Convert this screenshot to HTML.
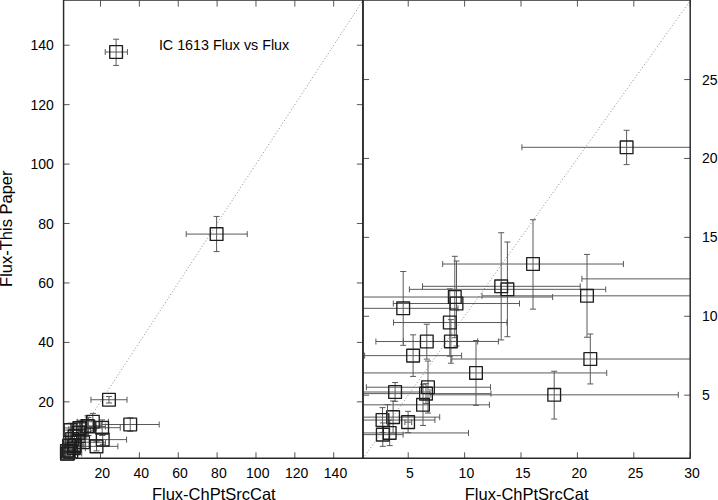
<!DOCTYPE html>
<html><head><meta charset="utf-8"><style>
html,body{margin:0;padding:0;background:#fff;width:718px;height:500px;overflow:hidden}
svg{display:block}
text{font-family:"Liberation Sans",sans-serif;font-size:14px;fill:#000}
text.al{font-size:16.5px}
text.t{font-size:14.3px}
.dg{stroke:#8a8a8a;stroke-width:1;stroke-dasharray:1 2.2;fill:none}
.eb{stroke:#5a5a5a;stroke-width:1;fill:none}
.bx{stroke:#1e1e1e;stroke-width:1.35;fill:none;stroke-linejoin:round}
.tk{stroke:#555;stroke-width:1;fill:none}
.fr{stroke:#2a2a2a;stroke-width:1.45;fill:none;stroke-linejoin:round}
</style></head><body>
<svg width="718" height="500" viewBox="0 0 718 500">
<defs><clipPath id="cl"><rect x="63.58" y="0" width="299.27" height="458.3"/></clipPath>
<clipPath id="clb"><rect x="0" y="0" width="362.85" height="500"/></clipPath>
<clipPath id="crb"><rect x="363.1" y="0" width="327.1" height="458.3"/></clipPath>
<clipPath id="cr"><rect x="363.1" y="0" width="327.1" height="458.3"/></clipPath></defs>
<line x1="63.58" y1="458.3" x2="362.85" y2="0.64" class="dg"/>
<line x1="363.1" y1="458.3" x2="690.2" y2="0.64" class="dg"/>
<g clip-path="url(#cl)"><path class="eb" d="M90.94 399.74H127.02M90.94 396.74V402.74M127.02 396.74V402.74M108.98 403V396.54M105.98 403H111.98M105.98 396.54H111.98"/><path class="eb" d="M77.29 421.72H108.43M77.29 418.72V424.72M108.43 418.72V424.72M92.85 430.21V413.37M89.85 430.21H95.85M89.85 413.37H95.85"/><path class="eb" d="M73.81 425.92H100.99M73.81 422.92V428.92M100.99 422.92V428.92M87.37 436.01V415.82M84.37 436.01H90.37M84.37 415.82H90.37"/><path class="eb" d="M71.56 426.48H105.38M71.56 423.48V429.48M105.38 423.48V429.48M88.44 435.41V417.57M85.44 435.41H91.44M85.44 417.57H91.44"/><path class="eb" d="M84.07 427.7H120.25M84.07 424.7V430.7M120.25 424.7V430.7M102.16 435.5V419.91M99.16 435.5H105.16M99.16 419.91H105.16"/><path class="eb" d="M61.05 430.06H79.93M61.05 427.06V433.06M79.93 427.06V433.06M70.49 437.03V423.13M67.49 437.03H73.49M67.49 423.13H73.49"/><path class="eb" d="M62.53 427.93H96.23M62.53 424.93V430.93M96.23 424.93V430.93M79.38 435.6V420.27M76.38 435.6H82.38M76.38 420.27H82.38"/><path class="eb" d="M68.78 429.15H90.53M68.78 426.15V432.15M90.53 426.15V432.15M79.67 437.16V421.15M76.67 437.16H82.67M76.67 421.15H82.67"/><path class="eb" d="M68.82 432.73H88.37M68.82 429.73V435.73M88.37 429.73V435.73M78.52 439.08V426.39M75.52 439.08H81.52M75.52 426.39H81.52"/><path class="eb" d="M70.52 436.29H86.89M70.52 433.29V439.29M86.89 433.29V439.29M78.71 440.4V432.19M75.71 440.4H81.71M75.71 432.19H81.71"/><path class="eb" d="M65.79 436.31H83.31M65.79 433.31V439.31M83.31 433.31V439.31M74.56 439.63V433.05M71.56 439.63H77.56M71.56 433.05H77.56"/><path class="eb" d="M63.84 438.97H80.55M63.84 435.97V441.97M80.55 435.97V441.97M72.19 442.88V435.05M69.19 442.88H75.19M69.19 435.05H75.19"/><path class="eb" d="M60.53 442.22H105.55M60.53 439.22V445.22M105.55 439.22V445.22M83.03 448.33V436.12M80.03 448.33H86.03M80.03 436.12H86.03"/><path class="eb" d="M78.86 439.61H126.59M78.86 436.61V442.61M126.59 436.61V442.61M102.73 444.3V434.9M99.73 444.3H105.73M99.73 434.9H105.73"/><path class="eb" d="M63.05 445.82H75.11M63.05 442.82V448.82M75.11 442.82V448.82M69.09 447.57V444.03M66.09 447.57H72.09M66.09 444.03H72.09"/><path class="eb" d="M64.15 444.92H85.53M64.15 441.92V447.92M85.53 441.92V447.92M74.76 449.78V439.98M71.76 449.78H77.76M71.76 439.98H77.76"/><path class="eb" d="M63.22 446.12H85.62M63.22 443.12V449.12M85.62 443.12V449.12M74.42 448.01V444.24M71.42 448.01H77.42M71.42 444.24H77.42"/><path class="eb" d="M62.46 448.23H85.34M62.46 445.23V451.23M85.34 445.23V451.23M73.9 452.11V444.35M70.9 452.11H76.9M70.9 444.35H76.9"/><path class="eb" d="M75.12 446.35H117.89M75.12 443.35V449.35M117.89 443.35V449.35M96.51 450.91V441.9M93.51 450.91H99.51M93.51 441.9H99.51"/><path class="eb" d="M57.83 451.09H75.95M57.83 448.09V454.09M75.95 448.09V454.09M66.92 453.43V448.76M63.92 453.43H69.92M63.92 448.76H69.92"/><path class="eb" d="M60.79 450.55H76.78M60.79 447.55V453.55M76.78 447.55V453.55M68.75 453.54V447.52M65.75 453.54H71.75M65.75 447.52H71.75"/><path class="eb" d="M70.78 451.49H71.95M70.78 448.49V454.49M71.95 448.49V454.49M71.33 453.47V449.46M68.33 453.47H74.33M68.33 449.46H74.33"/><path class="eb" d="M63.51 453.84H70.47M63.51 450.84V456.84M70.47 450.84V456.84M66.97 456.05V451.64M63.97 456.05H69.97M63.97 451.64H69.97"/><path class="eb" d="M54.59 453.52H81.74M54.59 450.52V456.52M81.74 450.52V456.52M68.16 455.92V451.13M65.16 455.92H71.16M65.16 451.13H71.16"/><path class="eb" d="M101.28 424.51H159.19M101.28 421.51V427.51M159.19 421.51V427.51M130.24 431.26V417.88M127.24 431.26H133.24M127.24 417.88H133.24"/><path class="eb" d="M105.21 52.02H127.4M105.21 49.02V55.02M127.4 49.02V55.02M116.11 65.43V39.21M113.11 65.43H119.11M113.11 39.21H119.11"/><path class="eb" d="M186.2 234.08H247.22M186.2 231.08V237.08M247.22 231.08V237.08M216.6 251.58V216.45M213.6 251.58H219.6M213.6 216.45H219.6"/></g><g clip-path="url(#clb)"><rect class="bx" x="102.63" y="393.39" width="12.7" height="12.7"/><rect class="bx" x="86.5" y="415.37" width="12.7" height="12.7"/><rect class="bx" x="81.02" y="419.57" width="12.7" height="12.7"/><rect class="bx" x="82.09" y="420.13" width="12.7" height="12.7"/><rect class="bx" x="95.81" y="421.35" width="12.7" height="12.7"/><rect class="bx" x="64.14" y="423.71" width="12.7" height="12.7"/><rect class="bx" x="73.03" y="421.58" width="12.7" height="12.7"/><rect class="bx" x="73.32" y="422.8" width="12.7" height="12.7"/><rect class="bx" x="72.17" y="426.38" width="12.7" height="12.7"/><rect class="bx" x="72.36" y="429.94" width="12.7" height="12.7"/><rect class="bx" x="68.21" y="429.96" width="12.7" height="12.7"/><rect class="bx" x="65.84" y="432.62" width="12.7" height="12.7"/><rect class="bx" x="76.68" y="435.87" width="12.7" height="12.7"/><rect class="bx" x="96.38" y="433.26" width="12.7" height="12.7"/><rect class="bx" x="62.74" y="439.47" width="12.7" height="12.7"/><rect class="bx" x="68.41" y="438.57" width="12.7" height="12.7"/><rect class="bx" x="68.07" y="439.77" width="12.7" height="12.7"/><rect class="bx" x="67.55" y="441.88" width="12.7" height="12.7"/><rect class="bx" x="90.16" y="440" width="12.7" height="12.7"/><rect class="bx" x="60.57" y="444.74" width="12.7" height="12.7"/><rect class="bx" x="62.4" y="444.2" width="12.7" height="12.7"/><rect class="bx" x="64.98" y="445.14" width="12.7" height="12.7"/><rect class="bx" x="60.62" y="447.49" width="12.7" height="12.7"/><rect class="bx" x="61.81" y="447.17" width="12.7" height="12.7"/><rect class="bx" x="123.89" y="418.16" width="12.7" height="12.7"/><rect class="bx" x="109.76" y="45.67" width="12.7" height="12.7"/><rect class="bx" x="210.25" y="227.73" width="12.7" height="12.7"/></g>
<g clip-path="url(#cr)"><path class="eb" d="M521.9 147.31H731.31M521.9 144.31V150.31M731.31 144.31V150.31M626.61 164.61V130.31M623.61 164.61H629.61M623.61 130.31H629.61"/><path class="eb" d="M442.7 264.02H623.41M442.7 261.02V267.02M623.41 261.02V267.02M533 309.13V219.72M530 309.13H536M530 219.72H536"/><path class="eb" d="M422.5 286.32H580.21M422.5 283.32V289.32M580.21 283.32V289.32M501.2 339.93V232.72M498.2 339.93H504.2M498.2 232.72H504.2"/><path class="eb" d="M409.4 289.33H605.71M409.4 286.33V292.33M605.71 286.33V292.33M507.4 336.73V242.02M504.4 336.73H510.4M504.4 242.02H510.4"/><path class="eb" d="M482 295.83H692.01M482 292.83V298.83M692.01 292.83V298.83M587.01 337.23V254.42M584.01 337.23H590.01M584.01 254.42H590.01"/><path class="eb" d="M348.4 308.33H458M348.4 305.33V311.33M458 305.33V311.33M403.2 345.33V271.52M400.2 345.33H406.2M400.2 271.52H406.2"/><path class="eb" d="M357 297.03H552.61M357 294.03V300.03M552.61 294.03V300.03M454.8 337.73V256.32M451.8 337.73H457.8M451.8 256.32H457.8"/><path class="eb" d="M393.3 303.53H519.5M393.3 300.53V306.53M519.5 300.53V306.53M456.5 346.03V261.02M453.5 346.03H459.5M453.5 261.02H459.5"/><path class="eb" d="M393.5 322.53H507M393.5 319.53V325.53M507 319.53V325.53M449.8 356.23V288.83M446.8 356.23H452.8M446.8 288.83H452.8"/><path class="eb" d="M403.4 341.43H498.4M403.4 338.43V344.43M498.4 338.43V344.43M450.9 363.23V319.63M447.9 363.23H453.9M447.9 319.63H453.9"/><path class="eb" d="M375.9 341.53H477.6M375.9 338.53V344.53M477.6 338.53V344.53M426.8 359.13V324.23M423.8 359.13H429.8M423.8 324.23H429.8"/><path class="eb" d="M364.6 355.63H461.6M364.6 352.63V358.63M461.6 352.63V358.63M413.1 376.43V334.83M410.1 376.43H416.1M410.1 334.83H416.1"/><path class="eb" d="M345.4 372.93H606.71M345.4 369.93V375.93M606.71 369.93V375.93M476 405.34V340.53M473 405.34H479M473 340.53H479"/><path class="eb" d="M451.8 359.03H728.81M451.8 356.03V362.03M728.81 356.03V362.03M590.31 383.93V334.03M587.31 383.93H593.31M587.31 334.03H593.31"/><path class="eb" d="M360 392.03H430M360 389.03V395.03M430 389.03V395.03M395.1 401.34V382.53M392.1 401.34H398.1M392.1 382.53H398.1"/><path class="eb" d="M366.4 387.23H490.5M366.4 384.23V390.23M490.5 384.23V390.23M428 413.04V361.03M425 413.04H431M425 361.03H431"/><path class="eb" d="M361 393.63H491M361 390.63V396.63M491 390.63V396.63M426 403.64V383.63M423 403.64H429M423 383.63H429"/><path class="eb" d="M356.6 404.84H489.4M356.6 401.84V407.84M489.4 401.84V407.84M423 425.44V384.23M420 425.44H426M420 384.23H426"/><path class="eb" d="M430.1 394.83H678.31M430.1 391.83V397.83M678.31 391.83V397.83M554.21 419.04V371.23M551.21 419.04H557.21M551.21 371.23H557.21"/><path class="eb" d="M329.7 420.04H434.9M329.7 417.04V423.04M434.9 417.04V423.04M382.5 432.44V407.64M379.5 432.44H385.5M379.5 407.64H385.5"/><path class="eb" d="M346.9 417.14H439.7M346.9 414.14V420.14M439.7 414.14V420.14M393.1 433.04V401.03M390.1 433.04H396.1M390.1 401.03H396.1"/><path class="eb" d="M404.9 422.14H411.7M404.9 419.14V425.14M411.7 419.14V425.14M408.1 432.64V411.34M405.1 432.64H411.1M405.1 411.34H411.1"/><path class="eb" d="M362.7 434.64H403.1M362.7 431.64V437.64M403.1 431.64V437.64M382.8 446.34V422.94M379.8 446.34H385.8M379.8 422.94H385.8"/><path class="eb" d="M310.9 432.94H468.5M310.9 429.94V435.94M468.5 429.94V435.94M389.7 445.64V420.24M386.7 445.64H392.7M386.7 420.24H392.7"/><path class="eb" d="M581.92 278.87H918.04M581.92 275.87V281.87M918.04 275.87V281.87M749.98 314.69V243.67M746.98 314.69H752.98M746.98 243.67H752.98"/></g><g clip-path="url(#crb)"><rect class="bx" x="620.26" y="140.96" width="12.7" height="12.7"/><rect class="bx" x="526.65" y="257.67" width="12.7" height="12.7"/><rect class="bx" x="494.85" y="279.97" width="12.7" height="12.7"/><rect class="bx" x="501.05" y="282.98" width="12.7" height="12.7"/><rect class="bx" x="580.66" y="289.48" width="12.7" height="12.7"/><rect class="bx" x="396.85" y="301.98" width="12.7" height="12.7"/><rect class="bx" x="448.45" y="290.68" width="12.7" height="12.7"/><rect class="bx" x="450.15" y="297.18" width="12.7" height="12.7"/><rect class="bx" x="443.45" y="316.18" width="12.7" height="12.7"/><rect class="bx" x="444.55" y="335.08" width="12.7" height="12.7"/><rect class="bx" x="420.45" y="335.18" width="12.7" height="12.7"/><rect class="bx" x="406.75" y="349.28" width="12.7" height="12.7"/><rect class="bx" x="469.65" y="366.58" width="12.7" height="12.7"/><rect class="bx" x="583.96" y="352.68" width="12.7" height="12.7"/><rect class="bx" x="388.75" y="385.68" width="12.7" height="12.7"/><rect class="bx" x="421.65" y="380.88" width="12.7" height="12.7"/><rect class="bx" x="419.65" y="387.28" width="12.7" height="12.7"/><rect class="bx" x="416.65" y="398.49" width="12.7" height="12.7"/><rect class="bx" x="547.86" y="388.48" width="12.7" height="12.7"/><rect class="bx" x="376.15" y="413.69" width="12.7" height="12.7"/><rect class="bx" x="386.75" y="410.79" width="12.7" height="12.7"/><rect class="bx" x="401.75" y="415.79" width="12.7" height="12.7"/><rect class="bx" x="376.45" y="428.29" width="12.7" height="12.7"/><rect class="bx" x="383.35" y="426.59" width="12.7" height="12.7"/><rect class="bx" x="743.63" y="272.52" width="12.7" height="12.7"/></g>
<path class="eb" d="M387.5 404.6V426M384.5 404.6H390.5"/>
<path class="tk" d="M100.5 458.3v-6M100.5 0.6v6M63.58 401.84h6M362.85 401.84h-6M139.37 458.3v-6M139.37 0.6v6M63.58 342.4h6M362.85 342.4h-6M178.24 458.3v-6M178.24 0.6v6M63.58 282.96h6M362.85 282.96h-6M217.1 458.3v-6M217.1 0.6v6M63.58 223.53h6M362.85 223.53h-6M255.97 458.3v-6M255.97 0.6v6M63.58 164.09h6M362.85 164.09h-6M294.83 458.3v-6M294.83 0.6v6M63.58 104.65h6M362.85 104.65h-6M333.7 458.3v-6M333.7 0.6v6M63.58 45.22h6M362.85 45.22h-6M408.22 458.3v-6M408.22 0.6v6M464.61 458.3v-6M464.61 0.6v6M521.01 458.3v-6M521.01 0.6v6M577.41 458.3v-6M577.41 0.6v6M633.8 458.3v-6M633.8 0.6v6M690.2 458.3v-6M690.2 0.6v6M363.1 395.17h6M690.2 395.17h-6M363.1 316.27h6M690.2 316.27h-6M363.1 237.36h6M690.2 237.36h-6M363.1 158.45h6M690.2 158.45h-6M363.1 79.55h6M690.2 79.55h-6"/>
<rect class="fr" x="63.58" y="0.14" width="299.27" height="458.16"/>
<rect class="fr" x="363.1" y="0.14" width="327.1" height="458.16"/>
<text x="102.3" y="478" text-anchor="middle">20</text>
<text x="53.9" y="406.84" text-anchor="end">20</text>
<text x="141.17" y="478" text-anchor="middle">40</text>
<text x="53.9" y="347.4" text-anchor="end">40</text>
<text x="180.04" y="478" text-anchor="middle">60</text>
<text x="53.9" y="287.96" text-anchor="end">60</text>
<text x="218.9" y="478" text-anchor="middle">80</text>
<text x="53.9" y="228.53" text-anchor="end">80</text>
<text x="257.77" y="478" text-anchor="middle">100</text>
<text x="53.9" y="169.09" text-anchor="end">100</text>
<text x="296.63" y="478" text-anchor="middle">120</text>
<text x="53.9" y="109.65" text-anchor="end">120</text>
<text x="335.5" y="478" text-anchor="middle">140</text>
<text x="53.9" y="50.22" text-anchor="end">140</text>
<text x="410.02" y="478" text-anchor="middle">5</text>
<text x="466.41" y="478" text-anchor="middle">10</text>
<text x="522.81" y="478" text-anchor="middle">15</text>
<text x="579.21" y="478" text-anchor="middle">20</text>
<text x="635.6" y="478" text-anchor="middle">25</text>
<text x="692" y="478" text-anchor="middle">30</text>
<text x="702" y="400.17" text-anchor="start">5</text>
<text x="702" y="321.27" text-anchor="start">10</text>
<text x="702" y="242.36" text-anchor="start">15</text>
<text x="702" y="163.45" text-anchor="start">20</text>
<text x="702" y="84.55" text-anchor="start">25</text>
<text x="158.9" y="50.1" class="t">IC 1613 Flux vs Flux</text>
<text class="al" x="213.81" y="499.5" text-anchor="middle">Flux-ChPtSrcCat</text>
<text class="al" x="526.65" y="499.5" text-anchor="middle">Flux-ChPtSrcCat</text>
<text class="al" transform="translate(12,228.7) rotate(-90)" text-anchor="middle">Flux-This Paper</text>
</svg>
</body></html>
